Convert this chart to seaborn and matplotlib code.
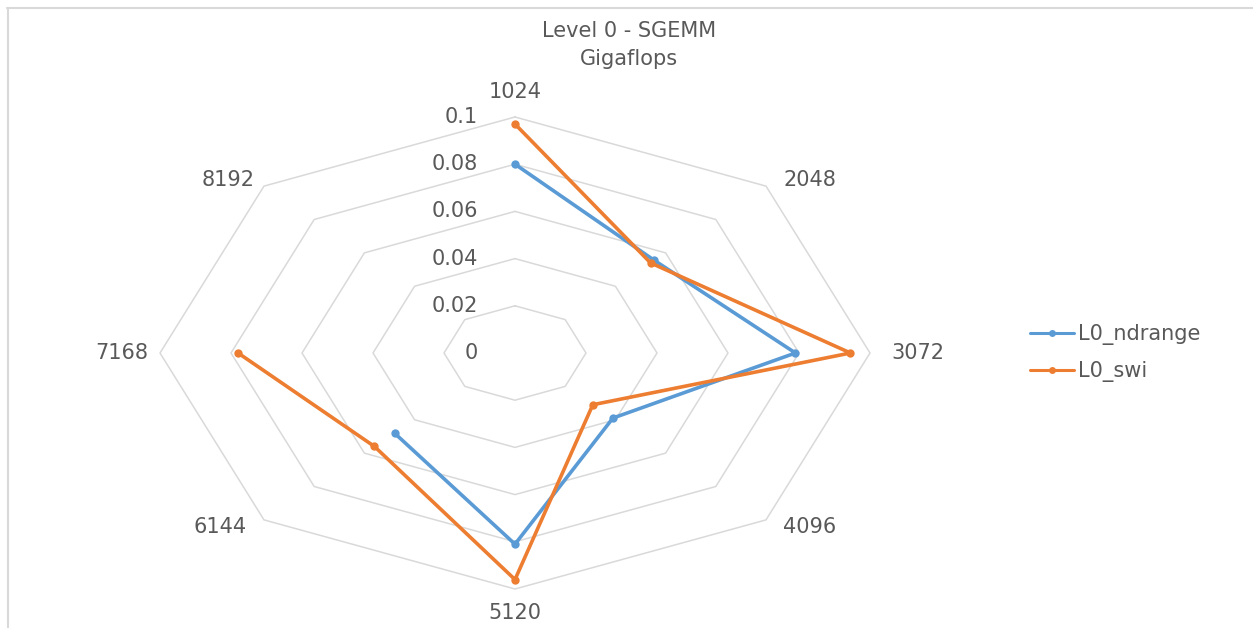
import numpy as np
import pandas as pd
import matplotlib
matplotlib.use("Agg")
import matplotlib.pyplot as plt
from matplotlib.lines import Line2D
import seaborn as sns

# Matrix sizes around the radar and measured Gigaflops per kernel variant
categories = ["1024", "2048", "3072", "4096", "5120", "6144", "7168", "8192"]
l0_ndrange = [0.080, 0.0555, 0.079, 0.039, 0.081, 0.048, np.nan, np.nan]
l0_swi = [0.097, 0.054, 0.0945, 0.031, 0.096, 0.056, 0.078, np.nan]
series_names = ["L0_ndrange", "L0_swi"]
ring_values = [0.02, 0.04, 0.06, 0.08, 0.1]
ring_labels = ["0", "0.02", "0.04", "0.06", "0.08", "0.1"]
title_lines = ["Level 0 - SGEMM", "Gigaflops"]

BLUE = "#5B9BD5"
ORANGE = "#ED7D31"
GRID = "#d9d9d9"
TEXT = "#595959"
FS = 15

sns.set_theme(style="white")
plt.rcParams["font.family"] = ["DejaVu Sans"]

W, H = 1253, 628
fig = plt.figure(figsize=(W / 100, H / 100), dpi=100)

# polar area stretched into an ellipse
ax = fig.add_axes([160 / W, (H - 589) / H, 710 / W, 472 / H], projection="polar")
ax.set_theta_zero_location("N")
ax.set_theta_direction(-1)
ax.set_aspect("auto")
ax.set_ylim(0, 0.1)
ax.grid(False)
ax.set_xticks([])
ax.set_yticks([])
ax.spines["polar"].set_visible(False)
ax.patch.set_alpha(0)

n = len(categories)
theta = np.arange(n) * 2 * np.pi / n

# octagonal grid rings
theta_closed = np.append(theta, theta[0])
for rv in ring_values:
    ax.plot(theta_closed, [rv] * (n + 1), color=GRID, lw=1.1, clip_on=False, zorder=1)

df = pd.DataFrame({
    "theta": np.tile(theta, 2),
    "value": l0_ndrange + l0_swi,
    "series": np.repeat(series_names, n),
}).dropna()

sns.lineplot(data=df, x="theta", y="value", hue="series", palette=[BLUE, ORANGE],
             marker="o", markersize=6, markeredgewidth=0, linewidth=2.6,
             sort=False, ax=ax, legend=False, zorder=3)
for line in ax.lines:
    line.set_clip_on(False)
ax.set_xlabel("")
ax.set_ylabel("")
ax.set_ylim(0, 0.1)

# category labels outside the outer ring
offsets = [(0, 25), (44, 6), (48, 0), (44, -7), (0, -24), (-44, -7), (-38, 0), (-36, 6)]
for t, lab, off in zip(theta, categories, offsets):
    ax.annotate(lab, xy=(t, 0.1), xytext=off, textcoords="offset pixels",
                ha="center", va="center", fontsize=FS, color=TEXT, annotation_clip=False)

# value labels along the vertical axis
for rv, lab in zip([0.0] + ring_values, ring_labels):
    ax.annotate(lab, xy=(0, rv), xytext=(-37, 0), textcoords="offset pixels",
                ha="right", va="center", fontsize=FS, color=TEXT, annotation_clip=False)

# title
fig.text(629 / W, 1 - 31 / H, title_lines[0], ha="center", va="center", fontsize=FS, color=TEXT)
fig.text(629 / W, 1 - 59 / H, title_lines[1], ha="center", va="center", fontsize=FS, color=TEXT)

# legend
handles = [Line2D([], [], color=c, lw=2.2, marker="o", markersize=5, markeredgewidth=0)
           for c in (BLUE, ORANGE)]
fig.legend(handles, series_names, loc="center left", bbox_to_anchor=(1020 / W, 1 - 353 / H),
           frameon=False, fontsize=FS, labelcolor=TEXT, handlelength=2.1,
           handletextpad=0.2, labelspacing=0.75, borderpad=0)

# chart border (top and left edges)
fig.add_artist(Line2D([7 / W, 1], [1 - 8 / H, 1 - 8 / H], color=GRID, lw=1.5))
fig.add_artist(Line2D([8 / W, 8 / W], [0, 1 - 8 / H], color=GRID, lw=1.5))

fig.savefig("out.png", dpi=100)
